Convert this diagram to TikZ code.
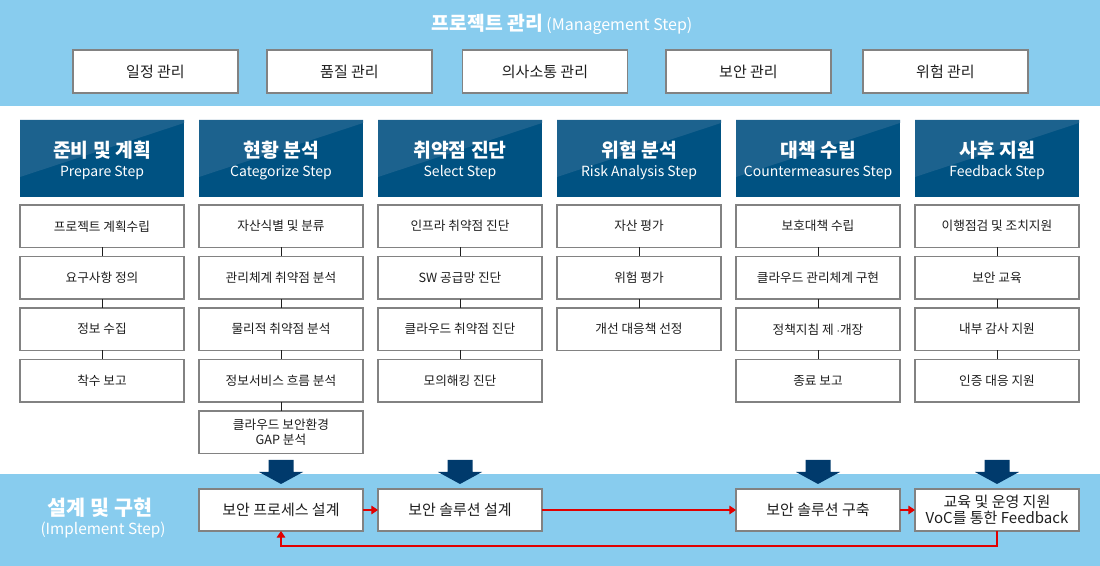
\documentclass[tikz,border=0pt]{standalone}
\usepackage{fontspec}
\setmainfont{Noto Sans CJK KR}
\usetikzlibrary{arrows.meta}
\definecolor{bandblue}{RGB}{136,204,238}
\definecolor{headblue}{RGB}{0,82,130}
\definecolor{headgloss}{RGB}{28,98,142}
\definecolor{navy}{RGB}{0,58,108}
\definecolor{boxgray}{RGB}{130,130,130}
\definecolor{flowred}{RGB}{225,0,0}
\definecolor{ink}{RGB}{30,30,30}
\tikzset{every node/.style={inner sep=0pt, outer sep=0pt},
 title/.style={text=white, font=\fontsize{12}{14}\selectfont},
 mgmt box/.style={draw=boxgray, fill=white, line width=0.8pt, text=ink,
   minimum width=123.75pt, minimum height=32.25pt, font=\fontsize{11.25}{13}\selectfont},
 head box/.style={fill=headblue, minimum width=123pt, minimum height=57.75pt,
   path picture={\fill[headgloss] (path picture bounding box.north west)
     -- (path picture bounding box.north east)
     -- ([yshift=-2.25pt]path picture bounding box.north east)
     -- ([yshift=-42.75pt]path picture bounding box.north west) -- cycle;}},
 head ko/.style={text=white, font=\fontsize{14.5}{17}\selectfont\bfseries},
 head en/.style={text=white, font=\fontsize{10.5}{12}\selectfont},
 task box/.style={draw=boxgray, fill=white, line width=0.8pt, text=ink, align=center,
   minimum width=123pt, minimum height=31.875pt, font=\fontsize{9.5}{11.25}\selectfont},
 impl box/.style={task box, minimum height=31.5pt, font=\fontsize{11.25}{12.5}\selectfont},
 impl title/.style={text=white, font=\fontsize{15.5}{18}\selectfont\bfseries},
 impl sub/.style={text=white, font=\fontsize{11.5}{14}\selectfont},
 link/.style={draw=ink, line width=0.6pt},
 flow/.style={draw=flowred, line width=0.8pt, -{Triangle[length=5pt,width=6.5pt]}},
}
\begin{document}
\begin{tikzpicture}[x=0.75pt,y=-0.75pt]
\useasboundingbox (0,0) rectangle (1100,566);
\fill[bandblue] (0,0) rectangle (1100,106);
\fill[bandblue] (0,474) rectangle (1100,566);
\node[title] (title) at (562,24) {{\bfseries\fontsize{14.5}{17}\selectfont 프로젝트 관리} (Management Step)};
\foreach \x/\t [count=\i] in {155.5/일정 관리, 349.5/품질 관리, 545/의사소통 관리, 748.5/보안 관리, 945.5/위험 관리}
  \node[mgmt box] (m\i) at (\x,71.5) {\t};
\foreach \ko/\en [count=\i] in {준비 및 계획/Prepare Step, 현황 분석/Categorize Step, 취약점 진단/Select Step,
  위험 분석/Risk Analysis Step, 대책 수립/Countermeasures Step, 사후 지원/Feedback Step} {
  \node[head box] (h\i) at ({102+179*(\i-1)},158.5) {};
  \node[head ko] (h\i-ko) at ({102+179*(\i-1)},150) {\ko};
  \node[head en] (h\i-en) at ({102+179*(\i-1)},173) {\en};
}
\foreach \items [count=\c] in {{프로젝트 계획수립,요구사항 정의,정보 수집,착수 보고},
  {자산식별 및 분류,관리체계 취약점 분석,물리적 취약점 분석,정보서비스 흐름 분석,{클라우드 보안환경\\GAP 분석}},
  {인프라 취약점 진단,SW 공급망 진단,클라우드 취약점 진단,모의해킹 진단},
  {자산 평가,위험 평가,개선 대응책 선정},
  {보호대책 수립,클라우드 관리체계 구현,정책지침 제 $\cdot$개장,종료 보고},
  {이행점검 및 조치지원,보안 교육,내부 감사 지원,인증 대응 지원}} {
  \foreach \t [count=\r] in \items {
    \node[task box] (s\c-\r) at ({102+179*(\c-1)},{226.25+51.5*(\r-1)}) {\t};
    \ifnum\r>1
      \pgfmathtruncatemacro\p{\r-1}
      \draw[link] (s\c-\p.south) -- (s\c-\r.north);
    \fi
  }
}
\foreach \x in {281,460,818,997}
  \fill[navy] (\x-12.5,460) -- (\x+12.5,460) -- (\x+12.5,472) -- (\x+22,472)
    -- (\x,484) -- (\x-22,472) -- (\x-12.5,472) -- cycle;
\node[impl title] (impl) at (100,508) {설계 및 구현};
\node[impl sub] (impl-en) at (103,530) {(Implement Step)};
\node[impl box] (b1) at (281,510) {보안 프로세스 설계};
\node[impl box] (b2) at (460,510) {보안 솔루션 설계};
\node[impl box] (b3) at (818,510) {보안 솔루션 구축};
\node[impl box] (b4) at (997,510) {교육 및 운영 지원\\VoC를 통한 Feedback};
\draw[flow] (b1) -- (b2);
\draw[flow] (b2) -- (b3);
\draw[flow] (b3) -- (b4);
\draw[flow] (b4.south) -- ++(0,15) -| (b1.south);
\end{tikzpicture}
\end{document}
